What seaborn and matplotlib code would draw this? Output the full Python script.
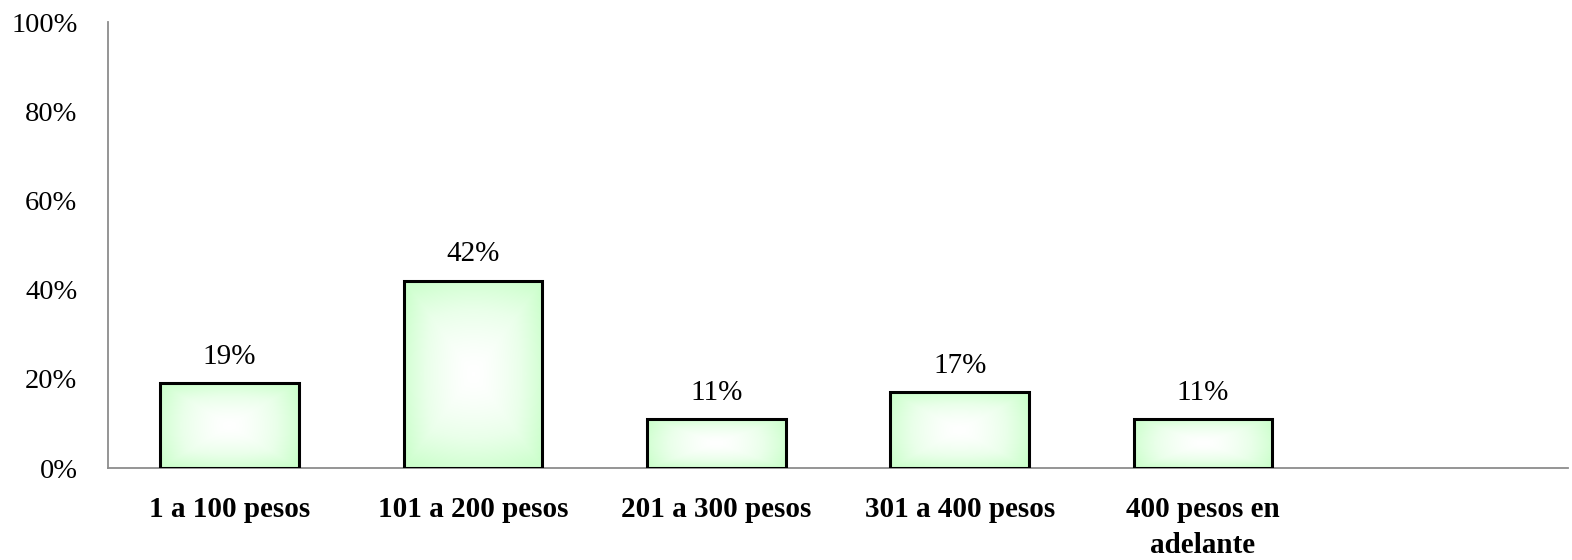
import numpy as np
import pandas as pd
import matplotlib
matplotlib.use("Agg")
import matplotlib.pyplot as plt
import seaborn as sns
from matplotlib.colors import LinearSegmentedColormap

# data
categories = ["1 a 100 pesos", "101 a 200 pesos", "201 a 300 pesos",
              "301 a 400 pesos", "400 pesos en\nadelante"]
values = [19, 42, 11, 17, 11]
value_labels = ["19%", "42%", "11%", "17%", "11%"]
y_ticks = [0, 20, 40, 60, 80, 100]
y_tick_labels = ["0%", "20%", "40%", "60%", "80%", "100%"]

sns.set_style("white")
plt.rcParams['font.family'] = ['Liberation Serif', 'DejaVu Serif']
plt.rcParams['text.color'] = 'black'
plt.rcParams['xtick.color'] = 'black'
plt.rcParams['ytick.color'] = 'black'

df = pd.DataFrame({"rango": categories, "pct": values})

fig = plt.figure(figsize=(15.72, 5.6), dpi=100)
ax = fig.add_axes([108 / 1572, 92 / 560, 1460 / 1572, 446 / 560])

sns.barplot(data=df, x="rango", y="pct", ax=ax, width=0.57,
            color="#ccffcc", edgecolor="black", linewidth=2.2, zorder=3)

# gradient fill: white centre fading to light green at the edges
cmap = LinearSegmentedColormap.from_list("grn", ["#ffffff", "#eaffea", "#ccffcc"])
n = 200
gx, gy = np.meshgrid(np.linspace(-1, 1, n), np.linspace(-1, 1, n))
grad = np.maximum(np.abs(gx), np.abs(gy)) * 0.6 + np.sqrt(gx**2 + gy**2) / np.sqrt(2) * 0.4
grad = np.clip(grad * 1.05, 0, 1) ** 1.5
for p in ax.patches:
    x0, y0 = p.get_x(), p.get_y()
    w, h = p.get_width(), p.get_height()
    im = ax.imshow(grad, cmap=cmap, extent=[x0, x0 + w, y0, y0 + h],
                   aspect="auto", zorder=2, interpolation="bilinear")
    im.set_clip_path(p)
    p.set_facecolor("none")

for i, (v, lab) in enumerate(zip(values, value_labels)):
    ax.annotate(lab, (i, v), xytext=(0, 9.5), textcoords="offset points",
                ha="center", va="bottom", fontsize=21)

ax.set_xlim(-0.5, 5.5)
ax.set_ylim(0, 100)
ax.set_yticks(y_ticks)
ax.set_yticklabels(y_tick_labels, fontsize=20.5)
ax.set_xticks(range(len(categories)))
ax.set_xticklabels(categories, fontsize=21, fontweight="bold", linespacing=1.45)
ax.tick_params(axis="both", length=0)
ax.tick_params(axis="x", pad=20)
ax.tick_params(axis="y", pad=22)
ax.set_xlabel("")
ax.set_ylabel("")

for s in ["top", "right"]:
    ax.spines[s].set_visible(False)
for s in ["left", "bottom"]:
    ax.spines[s].set_color("#8c8c8c")
    ax.spines[s].set_linewidth(1.3)

fig.savefig("out.png", dpi=100)
